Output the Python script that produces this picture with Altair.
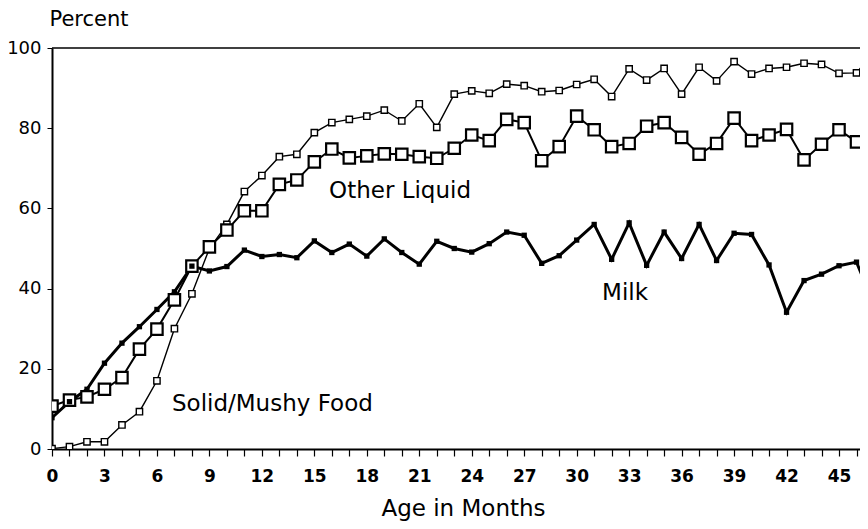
import altair as alt
import pandas as pd

months = list(range(0, 48))
milk = [7.8, 11.8, 14.9, 21.4, 26.4, 30.5, 34.8, 39.2, 45.6, 44.4,
        45.5, 49.6, 48.0, 48.5, 47.7, 51.9, 49.0, 51.1, 48.1, 52.4,
        49.0, 46.1, 51.8, 50.0, 49.1, 51.2, 54.1, 53.3, 46.3, 48.2,
        52.1, 56.0, 47.3, 56.4, 45.8, 54.1, 47.5, 56.0, 47.0, 53.8,
        53.5, 45.9, 34.1, 42.0, 43.6, 45.7, 46.6, 36.0]
other_liquid = [10.7, 12.2, 13.0, 14.9, 17.8, 24.9, 29.9, 37.2, 45.6, 50.4,
                54.6, 59.4, 59.4, 66.0, 67.1, 71.6, 74.8, 72.6, 73.1, 73.6,
                73.5, 72.9, 72.5, 75.0, 78.3, 76.9, 82.2, 81.4, 71.9, 75.4,
                83.0, 79.6, 75.4, 76.2, 80.5, 81.4, 77.7, 73.5, 76.2, 82.5,
                76.9, 78.3, 79.7, 72.1, 76.0, 79.6, 76.6, 82.5]
solid_food = [0.1, 0.6, 1.8, 1.8, 6.0, 9.3, 17.0, 30.0, 38.7, 50.0,
              56.0, 64.2, 68.2, 72.9, 73.5, 78.9, 81.4, 82.2, 83.0, 84.5,
              81.8, 86.1, 80.2, 88.5, 89.3, 88.7, 91.0, 90.6, 89.1, 89.4,
              90.9, 92.2, 87.9, 94.8, 92.0, 94.9, 88.5, 95.2, 91.8, 96.6,
              93.5, 94.9, 95.2, 96.2, 95.9, 93.7, 93.8, 99.0]

label_texts = ["Other Liquid", "Milk", "Solid/Mushy Food"]
label_months = [15.84, 31.45, 6.86]
label_values = [62.6, 37.2, 9.5]

y_ticks = [0, 20, 40, 60, 80, 100]
x_ticks = list(range(0, 47))

FONT = "DejaVu Sans"

df_milk = pd.DataFrame({"month": months, "value": milk})
df_other = pd.DataFrame({"month": months, "value": other_liquid})
df_solid = pd.DataFrame({"month": months, "value": solid_food})
df_labels = pd.DataFrame({"text": label_texts, "month": label_months, "value": label_values})
df_top = pd.DataFrame({"value": [100]})

x_scale = alt.Scale(domain=[0, 46.2], nice=False, zero=False)
y_scale = alt.Scale(domain=[0, 100], nice=False)

x_axis = alt.Axis(
    values=x_ticks,
    labelExpr="datum.value % 3 === 0 ? datum.label : ''",
    format="d",
    labelOverlap=False, labelFlush=False,
    title="Age in Months",
    titleX=411, titleY=66, titleAlign="center", titleBaseline="alphabetic",
    titleFontSize=23, titleFontWeight="normal", titleFont=FONT,
    labelFont=FONT, labelFontSize=17, labelFontWeight="bold",
    labelPadding=12, tickSize=7, tickColor="black", tickWidth=1.2,
    domainColor="black", domainWidth=2, labelColor="black", titleColor="black",
    grid=False,
)
y_axis = alt.Axis(
    values=y_ticks,
    labelOverlap=False, labelFlush=False,
    title="Percent",
    titleAngle=0, titleX=-3, titleY=-23, titleAlign="left", titleBaseline="alphabetic",
    titleFontSize=21, titleFontWeight="normal", titleFont=FONT,
    labelFont=FONT, labelFontSize=18, labelFontWeight="normal",
    labelPadding=6, tickSize=5, tickColor="black",
    domainColor="black", domainWidth=2, labelColor="black", titleColor="black",
    grid=False,
)

x_enc = alt.X("month:Q", scale=x_scale, axis=x_axis)
y_enc = alt.Y("value:Q", scale=y_scale, axis=y_axis)

top_rule = alt.Chart(df_top).mark_rule(color="black", strokeWidth=1.5).encode(y=y_enc)

solid_line = alt.Chart(df_solid).mark_line(color="black", strokeWidth=1.4, clip=True).encode(x=x_enc, y=y_enc)
solid_pts = alt.Chart(df_solid).mark_point(shape="square", size=40, filled=True, fill="white",
                                           stroke="black", strokeWidth=1.4, opacity=1, clip=True).encode(x=x_enc, y=y_enc)

other_line = alt.Chart(df_other).mark_line(color="black", strokeWidth=2, clip=True).encode(x=x_enc, y=y_enc)
other_pts = alt.Chart(df_other).mark_point(shape="square", size=130, filled=True, fill="white",
                                           stroke="black", strokeWidth=2.2, opacity=1, clip=True).encode(x=x_enc, y=y_enc)

milk_line = alt.Chart(df_milk).mark_line(color="black", strokeWidth=3, clip=True).encode(x=x_enc, y=y_enc)
milk_pts = alt.Chart(df_milk).mark_point(shape="square", size=28, filled=True, fill="black",
                                         opacity=1, clip=True).encode(x=x_enc, y=y_enc)

labels = alt.Chart(df_labels).mark_text(align="left", baseline="alphabetic", fontSize=23,
                                        font=FONT, color="black").encode(
    x=x_enc, y=y_enc, text="text:N"
)

chart = alt.layer(
    top_rule, solid_line, other_line, milk_line, solid_pts, other_pts, milk_pts, labels
).properties(
    width=808, height=401,
    padding={"left": 44, "top": 40, "right": 0, "bottom": 72},
    autosize=alt.AutoSizeParams(type="none"),
    background="white",
).configure_view(stroke=None).configure_axis(labelOverlap=False)

chart.save("out.html", embed_options={"renderer": "svg", "actions": False})
